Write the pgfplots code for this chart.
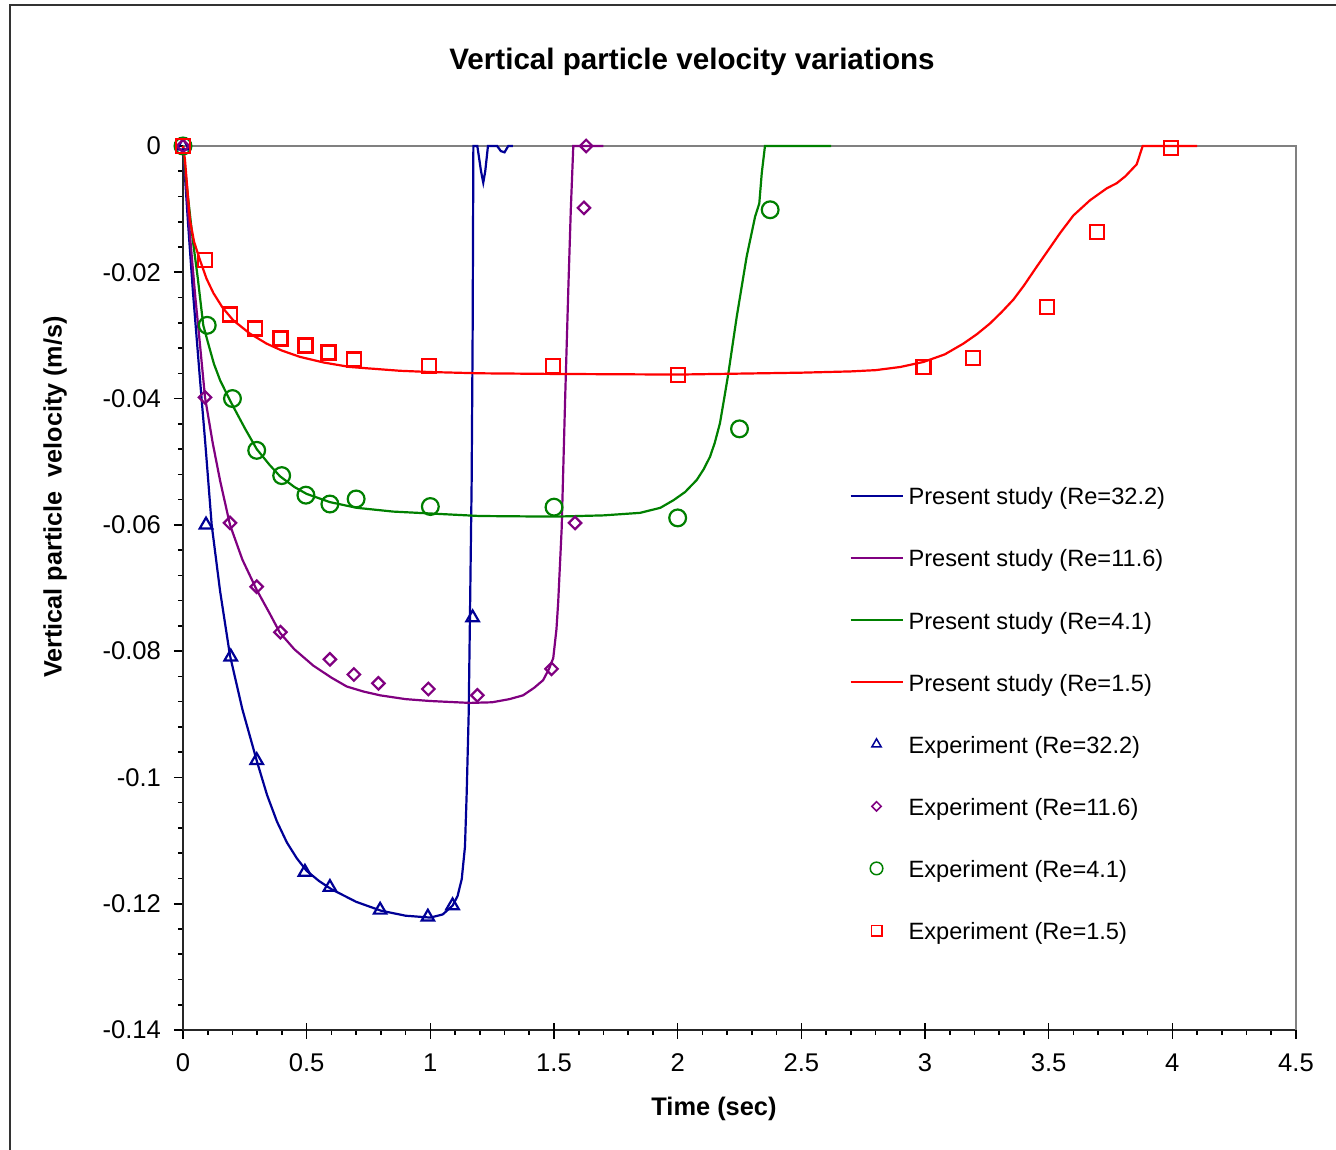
\documentclass[border=0pt]{standalone}
\usepackage{pgfplots}
\pgfplotsset{compat=1.18}
\usepackage{fontspec}
\setmainfont{Liberation Sans}
\definecolor{cblue}{RGB}{0,0,150}
\definecolor{cpurple}{RGB}{128,0,128}
\definecolor{cgreen}{RGB}{0,128,0}
\definecolor{cred}{RGB}{255,0,0}
\begin{document}
\begin{tikzpicture}
\useasboundingbox (0,0) rectangle (668bp,575bp);
\draw[black!80, line width=1bp] (5bp,-5bp) -- (5bp,572.5bp) -- (680bp,572.5bp);
\node[font=\bfseries\fontsize{14.8bp}{17bp}\selectfont] at (346bp,544bp) {Vertical particle velocity variations};
\node[font=\bfseries\fontsize{12.7bp}{15bp}\selectfont] at (357bp,20.5bp) {Time (sec)};
\node[font=\bfseries\fontsize{12.6bp}{15bp}\selectfont, rotate=90] at (27.5bp,326.5bp) {Vertical particle\ \ velocity (m/s)};
\begin{axis}[
  at={(91.5bp,60bp)}, anchor=south west,
  scale only axis, width=556.5bp, height=442bp,
  xmin=0, xmax=4.5, ymin=-0.14, ymax=0,
  axis x line*=bottom, axis y line*=left,
  axis line style={-, line width=1bp, black!85},
  xtick={0,0.5,1,1.5,2,2.5,3,3.5,4,4.5},
  xticklabels={0,0.5,1,1.5,2,2.5,3,3.5,4,4.5},
  extra x ticks={0.5,1,1.5,2,2.5,3,3.5,4,4.5},
  extra x tick labels={},
  extra x tick style={tick align=center, major tick length=6.5bp},
  ytick={-0.14,-0.12,-0.1,-0.08,-0.06,-0.04,-0.02,0},
  yticklabels={-0.14,-0.12,-0.1,-0.08,-0.06,-0.04,-0.02,0},
  scaled y ticks=false, scaled x ticks=false,
  minor x tick num=4, minor y tick num=4,
  tick align=outside,
  major tick length=4.5bp, minor tick length=2.5bp,
  tick style={black, line width=0.8bp},
  tick label style={font=\fontsize{12.8bp}{14bp}\selectfont},
  yticklabel style={xshift=-3bp},
  xticklabel style={yshift=-4bp},
  clip=false,
  legend style={at={(0.5984,0.6149)}, anchor=north west, draw=none, fill=none,
    font=\fontsize{11.8bp}{14bp}\selectfont, row sep=19.05bp, inner sep=0pt,
    nodes={inner sep=0pt, text height=9bp, text depth=3bp},
    /tikz/every odd column/.append style={column sep=2.5bp}},
  legend cell align=left,
  legend image code/.code={\draw[mark repeat=2,mark phase=2,#1,every mark/.append style={scale=0.75,line width=0.75bp}] plot coordinates {(0bp,1.5bp) (13bp,1.5bp) (26bp,1.5bp)};},
]
\draw[gray, line width=1bp] (rel axis cs:0,1) -- (rel axis cs:1,1) -- (rel axis cs:1,0);
% Present study lines
\addplot[cblue, line width=1.1bp, no marks] coordinates {
(0,0) (0.01,-0.006) (0.02,-0.012) (0.04,-0.023) (0.069,-0.0371) (0.09,-0.047) (0.116,-0.060) (0.15,-0.0705) (0.19,-0.0807) (0.24,-0.0892) (0.3,-0.0976) (0.34,-0.1028) (0.38,-0.107) (0.42,-0.1103) (0.46,-0.1128) (0.5,-0.1148) (0.55,-0.1164) (0.6,-0.1177) (0.7,-0.1197) (0.8,-0.1211) (0.9,-0.1219) (1.0,-0.1222) (1.05,-0.1217) (1.09,-0.1203) (1.11,-0.1188) (1.127,-0.1161) (1.14,-0.111) (1.147,-0.1025) (1.155,-0.09) (1.16,-0.0752) (1.167,-0.0534) (1.171,-0.03) (1.174,0) (1.19,0) (1.205,-0.004) (1.214,-0.0058) (1.222,-0.004) (1.233,0) (1.27,0) (1.285,-0.0008) (1.3,-0.001) (1.315,0) (1.334,0)
};
\addlegendentry{Present study (Re=32.2)}
\addplot[cpurple, line width=1.1bp, no marks] coordinates {
(0,0) (0.01,-0.005) (0.03,-0.015) (0.05,-0.024) (0.07,-0.032) (0.089,-0.0398) (0.12,-0.047) (0.15,-0.053) (0.19,-0.06) (0.24,-0.0655) (0.298,-0.0703) (0.35,-0.0740) (0.392,-0.0771) (0.45,-0.0797) (0.527,-0.0823) (0.6,-0.0842) (0.662,-0.0856) (0.73,-0.0864) (0.797,-0.087) (0.9,-0.0876) (1.0,-0.0879) (1.16,-0.0882) (1.25,-0.0881) (1.32,-0.0876) (1.375,-0.087) (1.42,-0.0858) (1.456,-0.0846) (1.48,-0.0828) (1.497,-0.0811) (1.51,-0.0765) (1.517,-0.0722) (1.531,-0.0606) (1.545,-0.0401) (1.558,-0.0225) (1.568,-0.01) (1.578,0) (1.70,0)
};
\addlegendentry{Present study (Re=11.6)}
\addplot[cgreen, line width=1.1bp, no marks] coordinates {
(0,0) (0.01,-0.004) (0.02,-0.008) (0.04,-0.015) (0.06,-0.021) (0.082,-0.0284) (0.1,-0.031) (0.125,-0.0345) (0.15,-0.0371) (0.19,-0.0403) (0.25,-0.0447) (0.298,-0.048) (0.35,-0.0505) (0.392,-0.0523) (0.45,-0.054) (0.5,-0.0551) (0.594,-0.0564) (0.702,-0.0573) (0.85,-0.0579) (1.0,-0.0582) (1.2,-0.0586) (1.5,-0.0587) (1.7,-0.0585) (1.848,-0.0581) (1.93,-0.0573) (1.983,-0.0561) (2.03,-0.0548) (2.077,-0.0529) (2.105,-0.0512) (2.131,-0.0492) (2.15,-0.047) (2.171,-0.0439) (2.188,-0.040) (2.205,-0.036) (2.239,-0.027) (2.279,-0.0175) (2.313,-0.0112) (2.33,-0.0091) (2.34,-0.0043) (2.353,0) (2.62,0)
};
\addlegendentry{Present study (Re=4.1)}
\addplot[cred, line width=1.1bp, no marks] coordinates {
(0,0) (0.008,-0.0022) (0.018,-0.007) (0.028,-0.0117) (0.045,-0.0152) (0.069,-0.0181) (0.095,-0.021) (0.123,-0.0233) (0.16,-0.0256) (0.203,-0.0276) (0.27,-0.0297) (0.338,-0.0313) (0.4,-0.0324) (0.473,-0.0334) (0.57,-0.0343) (0.675,-0.035) (0.877,-0.0356) (1.0,-0.0358) (1.2,-0.036) (1.5,-0.0361) (2.0,-0.0362) (2.5,-0.0359) (2.6,-0.0358) (2.7,-0.0357) (2.8,-0.0355) (2.9,-0.035) (2.994,-0.0342) (3.08,-0.0330) (3.155,-0.0313) (3.21,-0.0298) (3.263,-0.0281) (3.31,-0.0263) (3.358,-0.0243) (3.40,-0.0221) (3.452,-0.0191) (3.5,-0.0164) (3.546,-0.0138) (3.6,-0.011) (3.667,-0.0086) (3.735,-0.0067) (3.775,-0.0059) (3.81,-0.0048) (3.856,-0.0029) (3.88,0) (4.1,0)
};
\addlegendentry{Present study (Re=1.5)}
% Experiments
\addplot[cblue, only marks, mark=triangle, mark size=3.6bp, mark options={draw=cblue, line width=1.1bp}] coordinates {
(0,0) (0.093,-0.0600) (0.193,-0.0809) (0.298,-0.0973) (0.493,-0.1150) (0.594,-0.1174) (0.797,-0.1210) (0.99,-0.1221) (1.09,-0.1203) (1.171,-0.0747)
};
\addlegendentry{Experiment (Re=32.2)}
\addplot[cpurple, only marks, mark=square, mark size=2.2bp, mark options={draw=cpurple, rotate=45, line width=1.1bp}] coordinates {
(0,0) (0.089,-0.0398) (0.19,-0.0597) (0.298,-0.0698) (0.394,-0.077) (0.594,-0.0813) (0.691,-0.0837) (0.79,-0.0851) (0.992,-0.086) (1.19,-0.087) (1.49,-0.0828) (1.585,-0.0597) (1.621,-0.0098) (1.63,0)
};
\addlegendentry{Experiment (Re=11.6)}
\addplot[cgreen, only marks, mark=o, mark size=4.2bp, mark options={draw=cgreen, line width=1.1bp}] coordinates {
(0,0) (0.098,-0.0284) (0.2,-0.04) (0.298,-0.0482) (0.399,-0.0522) (0.497,-0.0553) (0.594,-0.0567) (0.7,-0.0559) (1.0,-0.0571) (1.5,-0.0572) (2.0,-0.0589) (2.25,-0.0448) (2.374,-0.0101)
};
\addlegendentry{Experiment (Re=4.1)}
\addplot[cred, only marks, mark=square, mark size=3.5bp, mark options={draw=cred, line width=1.1bp}] coordinates {
(0,0) (0.089,-0.018) (0.19,-0.0267) (0.291,-0.0289) (0.394,-0.0305) (0.495,-0.0316) (0.588,-0.0327) (0.691,-0.0338) (0.995,-0.0348) (1.497,-0.0349) (2.0,-0.0363) (2.994,-0.035) (3.193,-0.0336) (3.492,-0.0255) (3.695,-0.0136) (3.995,-0.0003)
};
\addlegendentry{Experiment (Re=1.5)}
\end{axis}
\end{tikzpicture}
\end{document}
